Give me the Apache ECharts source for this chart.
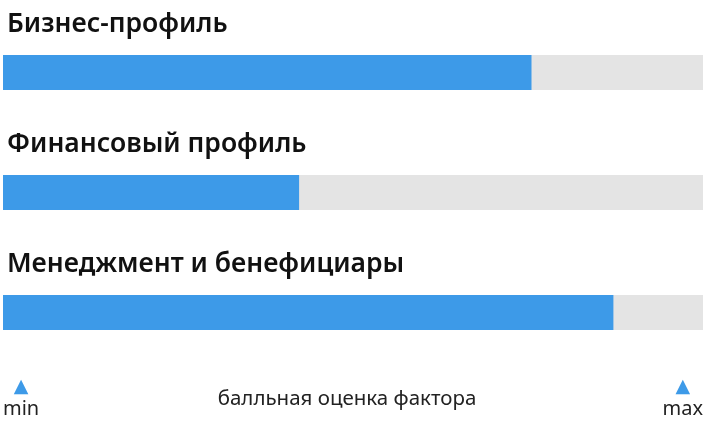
<!DOCTYPE html>
<html><head><meta charset="utf-8">
<script src="https://cdn.jsdelivr.net/npm/echarts@6/dist/echarts.min.js"></script>
<style>html,body{margin:0;padding:0;background:#fff}#c{width:706px;height:426px}</style>
</head><body><div id="c"></div>
<script>
const categories = ['Бизнес-профиль', 'Финансовый профиль', 'Менеджмент и бенефициары'];
const scores = [75.5, 42.3, 87.2];
const scaleMin = 0, scaleMax = 100;
const scaleLabels = ['min', 'max'];
const axisTitle = 'балльная оценка фактора';

const chart = echarts.init(document.getElementById('c'));
chart.setOption({
  animation: false,
  grid: { left: 3, right: 3, top: 12.5, height: 360, outerBoundsMode: 'none', containLabel: false },
  xAxis: {
    type: 'value', min: scaleMin, max: scaleMax, interval: scaleMax - scaleMin,
    splitLine: { show: false }, axisLine: { show: false }, axisTick: { show: false },
    axisLabel: {
      margin: 5,
      showMinLabel: true, showMaxLabel: true,
      alignMinLabel: 'left', alignMaxLabel: 'right',
      formatter: v => '{t|▲}\n{l|' + (v === scaleMin ? scaleLabels[0] : scaleLabels[1]) + '}',
      rich: {
        t: { color: '#3d9ae8', fontSize: 19, align: 'center', lineHeight: 20, fontFamily: 'DejaVu Sans' },
        l: { color: '#222', fontSize: 20, align: 'center', lineHeight: 24, fontFamily: 'Noto Sans' }
      }
    },
    name: axisTitle, nameLocation: 'middle', nameGap: 16, nameMoveOverlap: false,
    nameTextStyle: { color: '#222', fontSize: 20.5, fontFamily: 'Noto Sans', padding: [0, 12, 0, 0] }
  },
  yAxis: {
    type: 'category', data: categories, inverse: true,
    axisLine: { show: false }, axisTick: { show: false }, axisLabel: { show: false }
  },
  series: [{
    type: 'bar', data: scores, barWidth: 35,
    itemStyle: { color: '#3d9ae8' },
    showBackground: true,
    backgroundStyle: { color: '#e4e4e4' },
    label: {
      show: true, position: [4, -31], align: 'left', verticalAlign: 'middle',
      formatter: '{b}', color: '#111', fontSize: 26.5, fontWeight: 600, fontFamily: 'Noto Sans'
    }
  }]
});
</script></body></html>
